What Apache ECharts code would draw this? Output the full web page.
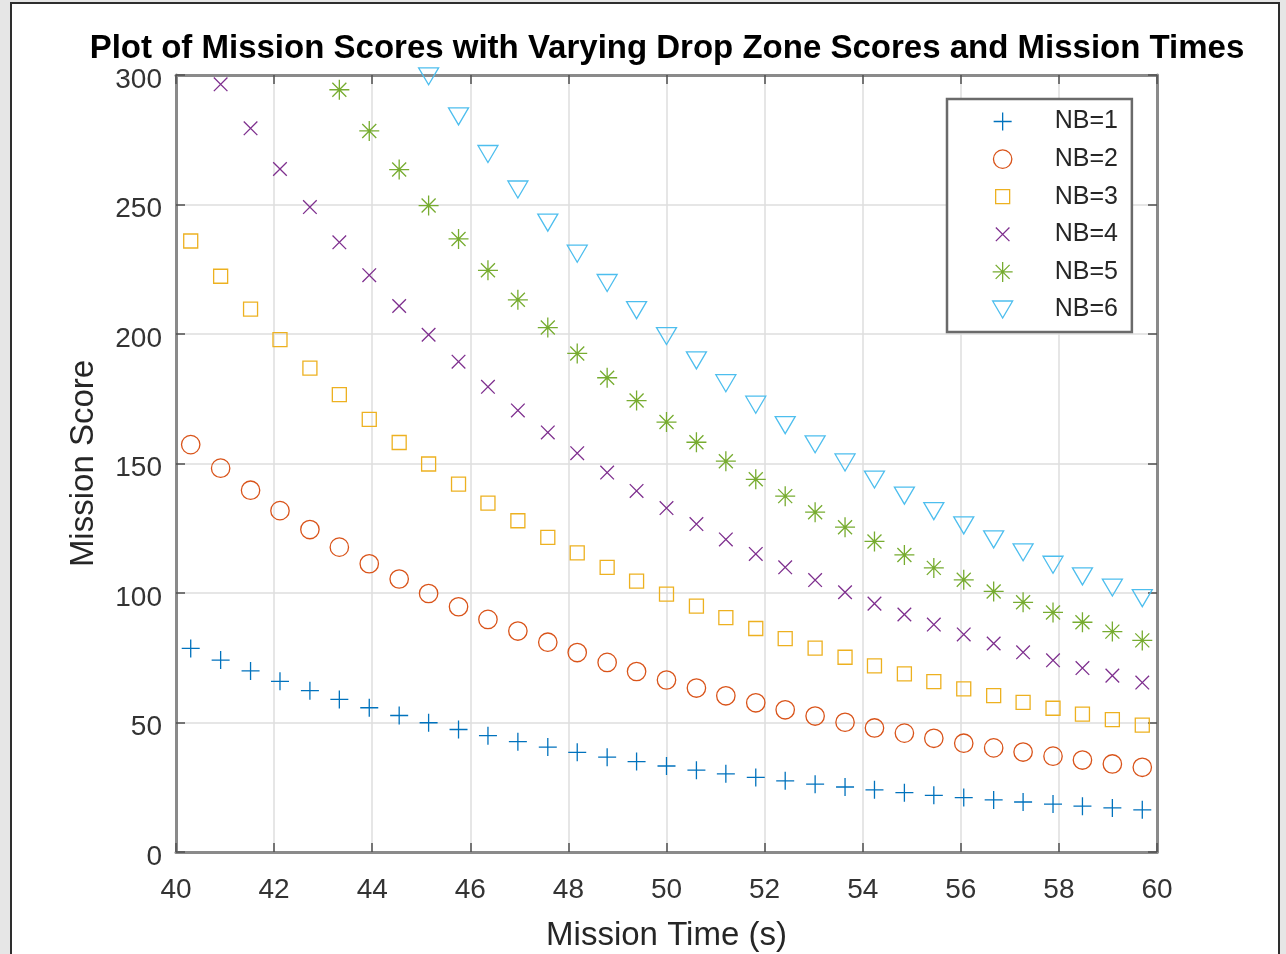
<!DOCTYPE html>
<html>
<head>
<meta charset="utf-8">
<script src="https://cdn.jsdelivr.net/npm/echarts@6/dist/echarts.min.js"></script>
<style>
  html, body { margin: 0; padding: 0; background: #e6e6e6; width: 1286px; height: 954px; overflow: hidden; }
  #frame { position: absolute; left: 10px; top: 2px; width: 1266px; height: 1000px; border: 2px solid #2e2e2e; background: #ffffff; }
  #chart { position: absolute; left: 0; top: 0; width: 1286px; height: 954px; }
</style>
</head>
<body>
<div id="frame"></div>
<div id="chart"></div>
<script>
// Mission times (s)
const times = [40.30, 40.91, 41.52, 42.12, 42.73, 43.33, 43.94, 44.55, 45.15, 45.76, 46.36,
  46.97, 47.58, 48.18, 48.79, 49.39, 50.00, 50.61, 51.21, 51.82, 52.42, 53.03, 53.64, 54.24,
  54.85, 55.45, 56.06, 56.67, 57.27, 57.88, 58.48, 59.09, 59.70];

// Mission scores per NB (null = above the visible range)
const nb1 = [78.6, 74.1, 69.9, 65.9, 62.3, 58.9, 55.7, 52.7, 49.9, 47.3, 44.9, 42.6, 40.5, 38.5,
  36.6, 34.9, 33.2, 31.6, 30.2, 28.8, 27.5, 26.2, 25.1, 24.0, 22.9, 21.9, 21.0, 20.1, 19.3, 18.5,
  17.7, 17.0, 16.3];
const nb2 = [157.3, 148.2, 139.7, 131.8, 124.5, 117.7, 111.3, 105.4, 99.8, 94.7, 89.8, 85.3, 81.0,
  77.0, 73.2, 69.7, 66.4, 63.3, 60.3, 57.6, 54.9, 52.5, 50.1, 47.9, 45.9, 43.9, 42.0, 40.2, 38.6,
  37.0, 35.5, 34.0, 32.7];
const nb3 = [235.9, 222.3, 209.6, 197.8, 186.8, 176.6, 167.0, 158.1, 149.8, 142.0, 134.7, 127.9,
  121.5, 115.5, 109.9, 104.6, 99.6, 94.9, 90.5, 86.3, 82.4, 78.7, 75.2, 71.9, 68.8, 65.8, 63.0,
  60.4, 57.8, 55.5, 53.2, 51.1, 49.0];
const nb4 = [null, 296.4, 279.4, 263.7, 249.0, 235.4, 222.7, 210.8, 199.7, 189.3, 179.6, 170.5,
  162.0, 154.0, 146.5, 139.4, 132.8, 126.6, 120.7, 115.1, 109.9, 105.0, 100.3, 95.9, 91.7, 87.8,
  84.0, 80.5, 77.1, 74.0, 71.0, 68.1, 65.4];
const nb5 = [null, null, null, null, null, 294.3, 278.4, 263.5, 249.6, 236.7, 224.6, 213.2, 202.5,
  192.5, 183.1, 174.3, 166.0, 158.2, 150.9, 143.9, 137.4, 131.2, 125.4, 119.9, 114.7, 109.7, 105.1,
  100.6, 96.4, 92.5, 88.7, 85.1, 81.7];
const nb6 = [null, null, null, null, null, null, null, null, 299.5, 284.0, 269.5, 255.8, 243.0,
  231.0, 219.7, 209.2, 199.2, 189.8, 181.0, 172.7, 164.8, 157.4, 150.4, 143.8, 137.6, 131.6, 126.1,
  120.7, 115.7, 110.9, 106.4, 102.1, 98.0];

const seriesNames = ['NB=1', 'NB=2', 'NB=3', 'NB=4', 'NB=5', 'NB=6'];
const seriesValues = [nb1, nb2, nb3, nb4, nb5, nb6];

// Axis settings
const xMin = 40, xMax = 60, xStep = 2;
const yMin = 0, yMax = 300, yStep = 50;
const titleText = 'Plot of Mission Scores with Varying Drop Zone Scores and Mission Times';
const xName = 'Mission Time (s)';
const yName = 'Mission Score';

// Styles (MATLAB default colour order and marker shapes, drawn in a 20x20 box)
const colors = ['#0072BD', '#D95319', '#EDB120', '#7E2F8E', '#77AC30', '#4DBEEE'];
const box = 'M0,0M20,20';
const symbols = [
  'path://' + box + 'M1,10L19,10M10,1L10,19',
  'path://' + box + 'M0.8,10A9.2,9.2 0 1,1 19.2,10A9.2,9.2 0 1,1 0.8,10Z',
  'path://' + box + 'M3,3L17,3L17,17L3,17Z',
  'path://' + box + 'M3.2,3.2L16.8,16.8M16.8,3.2L3.2,16.8',
  'path://' + box + 'M0,10L20,10M10,0L10,20M3,3L17,17M17,3L3,17',
  'path://' + box + 'M0,1.5L20,1.5L10,18.5Z'
];

const FONT = '"Liberation Sans", Arial, Helvetica, sans-serif';
const axisLineStyle = { color: '#8a8a8a', width: 3 };
const tickStyle = { color: '#505050', width: 1.5 };

const series = seriesNames.map((name, k) => ({
  name: name,
  type: 'scatter',
  xAxisIndex: 0,
  yAxisIndex: 0,
  symbol: symbols[k],
  symbolSize: 20,
  itemStyle: { color: 'rgba(0,0,0,0)', borderColor: colors[k], borderWidth: 1.3, opacity: 1 },
  emphasis: { disabled: true },
  data: times.map((t, i) => seriesValues[k][i] == null ? null : [t, seriesValues[k][i]]).filter(Boolean)
}));

const chart = echarts.init(document.getElementById('chart'), null, { renderer: 'canvas' });
chart.setOption({
  animation: false,
  backgroundColor: 'transparent',
  title: {
    text: titleText,
    left: 667,
    top: 32,
    textAlign: 'center',
    padding: 0,
    textStyle: { fontFamily: FONT, fontSize: 33, fontWeight: 'bold', color: '#000000' }
  },
  grid: { left: 176, top: 75, width: 981, height: 777, containLabel: false, outerBoundsMode: 'none' },
  legend: {
    orient: 'vertical',
    left: 947,
    top: 99,
    align: 'left',
    itemWidth: 20,
    itemHeight: 20,
    itemGap: 12.6,
    padding: [10, 14, 10, 45],
    backgroundColor: '#ffffff',
    borderColor: '#6a6a6a',
    borderWidth: 2.5,
    selectedMode: false,
    itemStyle: { borderWidth: 1.3 },
    textStyle: { fontFamily: FONT, fontSize: 25, color: '#262626', padding: [0, 0, 0, 37] },
    data: seriesNames
  },
  xAxis: [{
    type: 'value', position: 'bottom', min: xMin, max: xMax, interval: xStep,
    name: xName, nameLocation: 'middle', nameGap: 67,
    nameTextStyle: { fontFamily: FONT, fontSize: 33, color: '#262626' },
    axisLine: { show: true, onZero: false, lineStyle: axisLineStyle },
    axisTick: { show: true, inside: true, length: 9, lineStyle: tickStyle },
    axisLabel: { fontFamily: FONT, fontSize: 28, color: '#333333', margin: 24 },
    splitLine: { show: true, lineStyle: { color: '#dedede', width: 1.5 } }
  }, {
    type: 'value', position: 'top', min: xMin, max: xMax, interval: xStep,
    axisLine: { show: true, onZero: false, lineStyle: axisLineStyle },
    axisTick: { show: true, inside: true, length: 9, lineStyle: tickStyle },
    axisLabel: { show: false },
    splitLine: { show: false }
  }],
  yAxis: [{
    type: 'value', position: 'left', min: yMin, max: yMax, interval: yStep,
    name: yName, nameLocation: 'middle', nameGap: 76, nameRotate: 90,
    nameTextStyle: { fontFamily: FONT, fontSize: 33, color: '#262626' },
    axisLine: { show: true, onZero: false, lineStyle: axisLineStyle },
    axisTick: { show: true, inside: true, length: 9, lineStyle: tickStyle },
    axisLabel: { fontFamily: FONT, fontSize: 28, color: '#333333', margin: 14, verticalAlign: 'top', lineHeight: 10 },
    splitLine: { show: true, lineStyle: { color: '#dedede', width: 1.5 } }
  }, {
    type: 'value', position: 'right', min: yMin, max: yMax, interval: yStep,
    axisLine: { show: true, onZero: false, lineStyle: axisLineStyle },
    axisTick: { show: true, inside: true, length: 9, lineStyle: tickStyle },
    axisLabel: { show: false },
    splitLine: { show: false }
  }],
  series: series
});
</script>
</body>
</html>
